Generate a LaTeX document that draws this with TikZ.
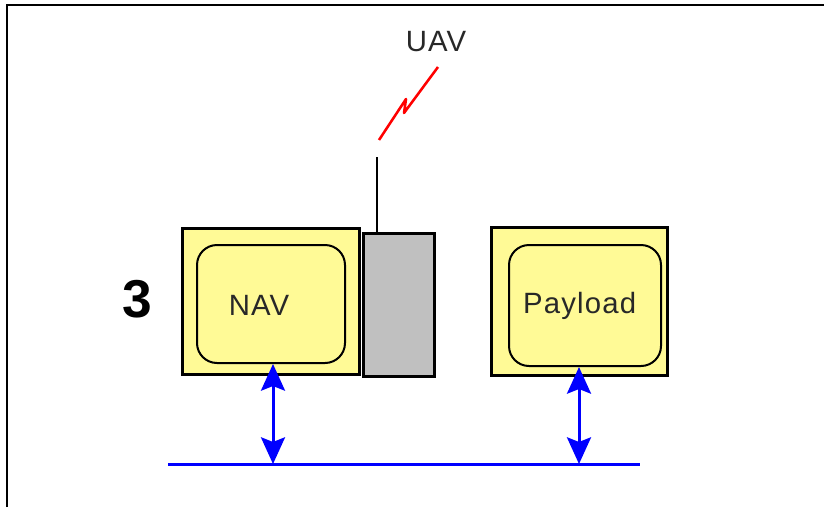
\documentclass[tikz,border=0pt]{standalone}
\usepackage{fontspec}
\setmainfont{Liberation Sans}
\usetikzlibrary{arrows.meta}
\definecolor{boxyellow}{HTML}{FFFA96}
\definecolor{boxgray}{HTML}{C0C0C0}
\definecolor{txtgray}{HTML}{282828}
\begin{document}
\begin{tikzpicture}[x=0.75pt,y=-0.75pt,
  outerbox/.style={draw=black,line width=2.25pt,fill=boxyellow,inner sep=0pt},
  innerbox/.style={draw=black,line width=1.5pt,fill=boxyellow,rounded corners=15pt,inner sep=0pt},
  graybox/.style={draw=black,line width=2.25pt,fill=boxgray,inner sep=0pt},
  busline/.style={draw=blue,line width=2.25pt},
  busarrow/.style={draw=blue,line width=2.25pt,{Stealth[length=20pt,width=18pt,inset=3.5pt]}-{Stealth[length=20pt,width=18pt,inset=3.5pt]}},
  bolt/.style={draw=red,line width=1.9pt,line join=round},
  lbl/.style={font=\fontsize{22}{26}\selectfont\addfontfeature{LetterSpace=4},text=txtgray,inner sep=0pt}]
\useasboundingbox (0,0) rectangle (824,507);
\fill[white] (0,0) rectangle (824,507);
% frame
\draw[line width=1.6pt] (7,507) -- (7,5) -- (824,5);

% NAV unit
\node[outerbox,minimum width=132.75pt,minimum height=109.5pt] (navout) at (271,301.5) {};
\node[innerbox,minimum width=111pt,minimum height=88.5pt] (navin) at (271,304) {};
\node[lbl] (navlbl) at ([xshift=-9pt,yshift=-1pt]navin.center) {NAV};
% gray radio box
\node[graybox,minimum width=53.25pt,minimum height=107.25pt] (radio) at (399,305) {};
% antenna
\coordinate (ant) at (377,157);
\draw[line width=1.5pt] (ant) -- (ant |- radio.north);
% lightning
\coordinate (z1) at (379,140);
\coordinate (z2) at (406,99);
\coordinate (z3) at (404,113);
\coordinate (z4) at (438,67);
\draw[bolt] (z1) -- (z2) -- (z3) -- (z4);
\node[lbl] (uav) at (436,42) {UAV};

% Payload unit
\node[outerbox,minimum width=132pt,minimum height=111pt] (payout) at (579.5,301.5) {};
\node[innerbox,minimum width=114pt,minimum height=90.75pt] (payin) at (585,305.5) {};
\node[lbl] (paylbl) at ([xshift=-4pt]payin.center) {Payload};

% label 3
\node[font=\fontsize{40}{44}\selectfont\bfseries,inner sep=0pt] (three) at (137,299) {3};

% bus
\coordinate (busL) at (168,464);
\coordinate (busR) at (640,464);
\draw[busline] (busL) -- (busR);
\coordinate (b1) at (273,464);
\coordinate (b2) at (579,464);
\draw[busarrow] (b1) -- (b1 |- navin.south);
\draw[busarrow] (b2) -- (b2 |- payin.south);
\end{tikzpicture}
\end{document}
